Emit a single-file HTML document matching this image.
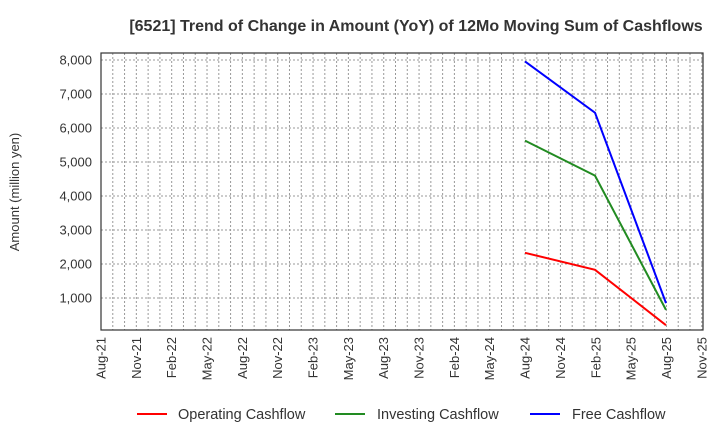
<!DOCTYPE html><html><head><style>body{margin:0;background:#fff}svg text{font-family:"Liberation Sans",sans-serif}</style></head><body>
<svg width="720" height="440" xmlns="http://www.w3.org/2000/svg">
<text x="416" y="31" text-anchor="middle" font-size="16" font-weight="bold" fill="#333">[6521]  Trend of Change in Amount (YoY) of 12Mo Moving Sum of Cashflows</text>
<g id="g" stroke="#999" stroke-dasharray="2,2" stroke-width="1"></g>
<rect x="101" y="53" width="602" height="277" fill="none" stroke="#333" stroke-width="1.2"/>
<g font-size="13" fill="#333" text-anchor="end" id="yl"></g>
<text transform="translate(19,192) rotate(-90)" text-anchor="middle" font-size="13" fill="#333">Amount (million yen)</text>
<g font-size="13" fill="#333" id="xl"></g>
<g fill="none" stroke-width="2">
<polyline stroke="#ff0000" points="525,252.8 595,269.8 666,325.2"/>
<polyline stroke="#228b22" points="525,140.6 595,175.6 666,309.9"/>
<polyline stroke="#0000ff" points="525,61.4 595,112.7 666,303.1"/>
</g>
<g font-size="14.5" fill="#333">
<line x1="137" y1="414" x2="167" y2="414" stroke="#ff0000" stroke-width="2"/><text x="178" y="419">Operating Cashflow</text>
<line x1="335" y1="414" x2="365" y2="414" stroke="#228b22" stroke-width="2"/><text x="377" y="419">Investing Cashflow</text>
<line x1="530" y1="414" x2="560" y2="414" stroke="#0000ff" stroke-width="2"/><text x="572" y="419">Free Cashflow</text>
</g>
<script>
var g=document.getElementById('g'),yl=document.getElementById('yl'),xl=document.getElementById('xl'),ns='http://www.w3.org/2000/svg';
function el(p,t,a,tx){var e=document.createElementNS(ns,t);for(var k in a)e.setAttribute(k,a[k]);if(tx)e.textContent=tx;p.appendChild(e);}
for(var v=1000;v<=8000;v+=1000){var y=332-0.034*v;el(g,'line',{x1:101,x2:703,y1:y,y2:y});el(yl,'text',{x:92,y:y+4.5},v.toLocaleString('en-US'));}
for(var m=1;m<=51;m++){var x=101+11.78*m;el(g,'line',{x1:x,x2:x,y1:53,y2:330});}
var mn=['Aug','Nov','Feb','May'];
for(var i=0;i<18;i++){var x=101+11.78*3*i;var mm=7+3*i;var yr=21+Math.floor(mm/12);var t=mn[i%4]+'-'+yr;el(xl,'text',{transform:'translate('+(x+4.5)+',337) rotate(-90)','text-anchor':'end'},t);}
</script>
</svg></body></html>
